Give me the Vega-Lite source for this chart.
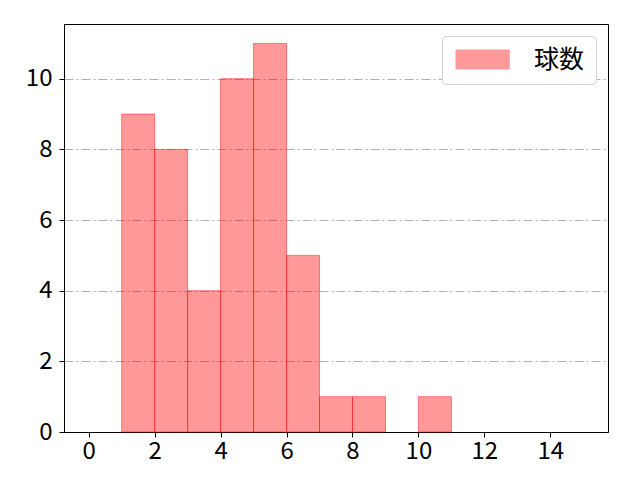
{
  "$schema": "https://vega.github.io/schema/vega-lite/v6.json",
  "width": 544,
  "height": 408,
  "autosize": {"type": "none"},
  "padding": {"left": 64, "top": 24, "right": 32, "bottom": 48},
  "background": "white",
  "config": {
    "font": "Noto Sans CJK JP",
    "view": {"stroke": "black", "strokeWidth": 1}
  },
  "data": {
    "values": [
      {"bin_start": 1, "bin_end": 2, "count": 9, "series": "球数"},
      {"bin_start": 2, "bin_end": 3, "count": 8, "series": "球数"},
      {"bin_start": 3, "bin_end": 4, "count": 4, "series": "球数"},
      {"bin_start": 4, "bin_end": 5, "count": 10, "series": "球数"},
      {"bin_start": 5, "bin_end": 6, "count": 11, "series": "球数"},
      {"bin_start": 6, "bin_end": 7, "count": 5, "series": "球数"},
      {"bin_start": 7, "bin_end": 8, "count": 1, "series": "球数"},
      {"bin_start": 8, "bin_end": 9, "count": 1, "series": "球数"},
      {"bin_start": 10, "bin_end": 11, "count": 1, "series": "球数"}
    ]
  },
  "mark": {
    "type": "bar",
    "fillOpacity": 0.4,
    "stroke": "red",
    "strokeOpacity": 0.45,
    "strokeWidth": 1
  },
  "encoding": {
    "x": {
      "field": "bin_start",
      "type": "quantitative",
      "scale": {"domain": [-0.75, 15.75], "nice": false, "zero": false},
      "axis": {
        "title": null,
        "values": [0, 2, 4, 6, 8, 10, 12, 14],
        "grid": false,
        "domainColor": "black",
        "tickColor": "black",
        "tickSize": 5,
        "labelFontSize": 24,
        "labelColor": "black",
        "labelPadding": 2,
        "labelFlush": false
      }
    },
    "x2": {"field": "bin_end"},
    "y": {
      "field": "count",
      "type": "quantitative",
      "scale": {"domain": [0, 11.55], "nice": false, "padding": 0},
      "axis": {
        "title": null,
        "values": [0, 2, 4, 6, 8, 10],
        "grid": true,
        "gridColor": "#b0b0b0",
        "gridDash": [9, 3, 2, 3],
        "gridWidth": 1,
        "domainColor": "black",
        "tickColor": "black",
        "tickSize": 5,
        "labelFontSize": 24,
        "labelColor": "black",
        "labelPadding": 7,
        "labelFlush": false
      }
    },
    "y2": {"datum": 0},
    "color": {
      "field": "series",
      "type": "nominal",
      "scale": {"range": ["red"]},
      "legend": {
        "title": null,
        "orient": "top-right",
        "offset": 12,
        "symbolType": "M-1,-1H4.6V1H-1Z",
        "symbolSize": 361,
        "symbolOpacity": 0.4,
        "symbolStrokeColor": "red",
        "symbolStrokeWidth": 1,
        "labelFontSize": 25,
        "labelColor": "black",
        "labelOffset": 56,
        "strokeColor": "#d0d0d0",
        "fillColor": "white",
        "cornerRadius": 4,
        "padding": 11
      }
    }
  }
}
